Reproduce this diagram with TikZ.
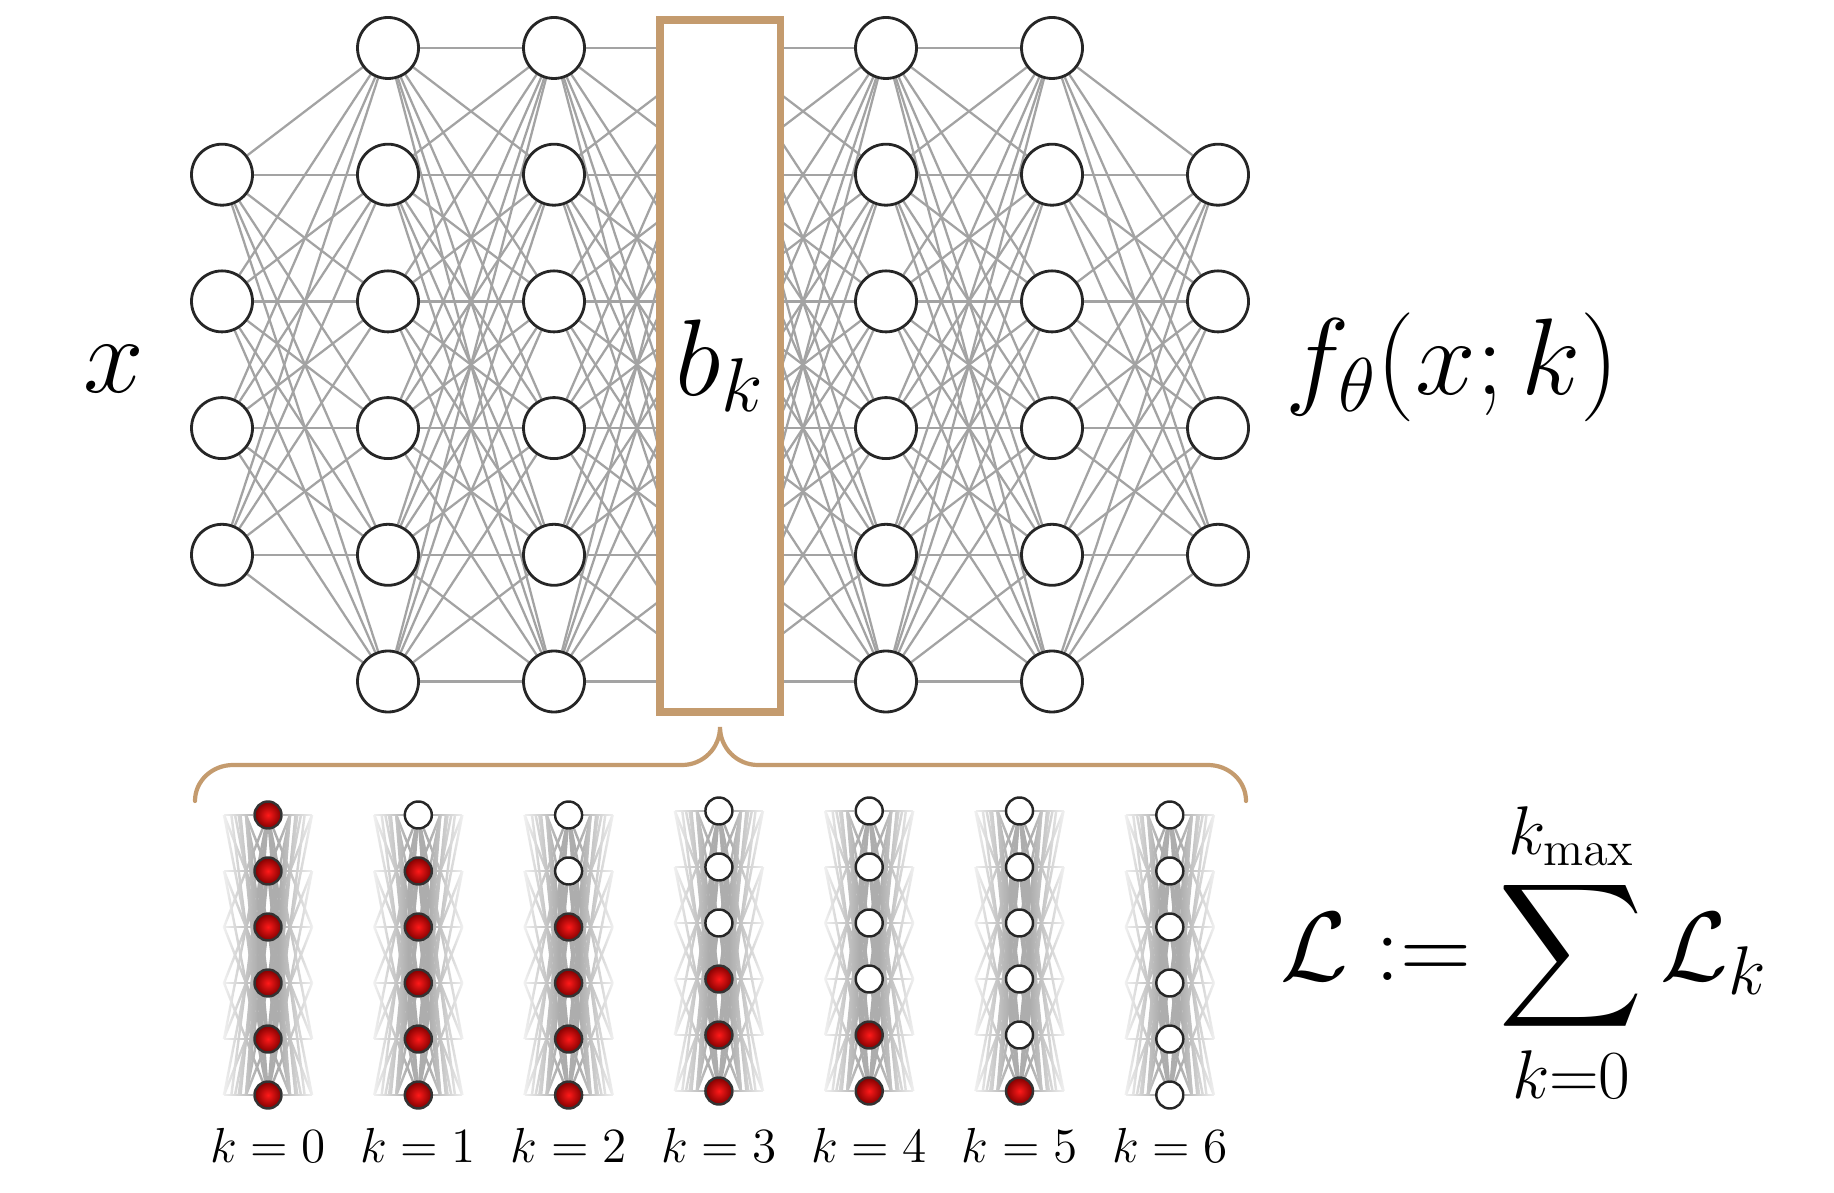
\RequirePackage{fix-cm}
\documentclass[tikz,border=0pt]{standalone}
\usepackage{exscale}
\usetikzlibrary{backgrounds,fadings}

\definecolor{boxtan}{RGB}{196,155,110}
\tikzfading[name=fade west side, left color=transparent!10, right color=transparent!100]
\tikzfading[name=fade east side, left color=transparent!100, right color=transparent!10]

\tikzset{
  neuron/.style={circle, draw=black!85, line width=0.8pt, fill=white, minimum size=0.61cm, inner sep=0pt},
  link/.style={draw=black!36, line width=0.65pt},
  tiny/.style={circle, draw=black!85, line width=0.7pt, fill=white, minimum size=0.27cm, inner sep=0pt},
  active/.style={tiny, draw=black!80, inner color=red!90!white, outer color=red!50!black},
  thin link/.style={draw=black!32, line width=0.7pt},
  brace/.style={draw=boxtan, line width=1.2pt, line cap=round},
  big/.style={font=\fontsize{31}{36}\selectfont, inner sep=0pt}
}

\begin{document}
\begin{tikzpicture}
    \useasboundingbox (0,0) rectangle (18.34,11.92);

    % big network, layer 3 sits behind the box
    \foreach \i/\a/\b in {0/2/5,1/1/6,2/1/6,4/1/6,5/1/6,6/2/5}
        \foreach \j in {\a,...,\b}
            \node[neuron] (n\i-\j) at ({2.22+1.66*\i},{11.44-1.267*(\j-1)}) {};
    \foreach \j in {1,...,6}
        \coordinate (n3-\j) at (7.2,{11.44-1.267*(\j-1)});

    \begin{scope}[on background layer]
        \foreach \i/\a/\b/\c/\d in {0/2/5/1/6,1/1/6/1/6,2/1/6/1/6,3/1/6/1/6,4/1/6/1/6,5/1/6/2/5}{
            \pgfmathtruncatemacro\nxt{\i+1}
            \foreach \j in {\a,...,\b}
                \foreach \l in {\c,...,\d}
                    \draw[link] (n\i-\j) -- (n\nxt-\l);
        }
    \end{scope}

    \node[draw=boxtan, line width=2pt, fill=white, minimum width=1.2cm, minimum height=6.92cm,
          big] (bk) at (7.2,8.26) {$b_k$};

    \node[big, anchor=base] (xin) at (1.14,7.99) {$x$};
    \node[big, anchor=base west] (fout) at (12.85,7.97) {$f_\theta(x;k)$};

    % brace under the network
    \coordinate (tip) at (7.2,4.65);
    \draw[brace] (1.95,3.91) to[out=90,in=180] (2.33,4.27) -- (6.82,4.27)
        to[out=0,in=-90] (tip) to[out=-90,in=180] (7.58,4.27) -- (12.08,4.27)
        to[out=0,in=90] (12.46,3.91);

    % one small column for every k
    \foreach \k/\dy in {0/0,1/0,2/0,3/0.04,4/0.04,5/0.04,6/0}{
        \pgfmathsetmacro\cx{2.68+1.503*\k}
        \foreach \j in {1,...,6}{
            \ifnum\j>\k
                \node[active] (m\k-\j) at (\cx,{3.77+\dy-0.56*(\j-1)}) {};
            \else
                \node[tiny] (m\k-\j) at (\cx,{3.77+\dy-0.56*(\j-1)}) {};
            \fi
        }
        \begin{scope}[on background layer]
            \foreach \j in {1,...,6}
                \foreach \l in {1,...,6}{
                    \ifnum\l=\j
                        \def\tgt{\j}\def\off{0.44}
                    \else
                        \pgfmathtruncatemacro\tgt{min(6,max(1,2*\l-\j))}
                        \pgfmathsetmacro\off{0.22*(\tgt-\j)/(\l-\j)}
                    \fi
                    \coordinate (wl) at ({\cx-\off},{3.77+\dy-0.56*(\tgt-1)});
                    \coordinate (wr) at ({\cx+\off},{3.77+\dy-0.56*(\tgt-1)});
                    \draw[thin link] (m\k-\j) -- (wl);
                    \draw[thin link] (m\k-\j) -- (wr);
                }
            \fill[white, path fading=fade west side] ({\cx-0.48},{3.85+\dy}) rectangle ({\cx-0.1},{0.89+\dy});
            \fill[white, path fading=fade east side] ({\cx+0.1},{3.85+\dy}) rectangle ({\cx+0.48},{0.89+\dy});
        \end{scope}
        \node[font=\fontsize{14}{17}\selectfont, anchor=base] (lab\k) at (\cx,0.30) {$k=\k$};
    }

    \node[font=\fontsize{28}{33}\selectfont, anchor=base west, inner sep=0pt] (loss) at (12.80,2.12)
        {$\displaystyle \mathcal{L} := \mathop{\vcenter{\hbox{\scalebox{1.15}{$\displaystyle\sum$}}}}\limits_{k=0}^{k_{\max}} \mathcal{L}_k$};
\end{tikzpicture}
\end{document}
